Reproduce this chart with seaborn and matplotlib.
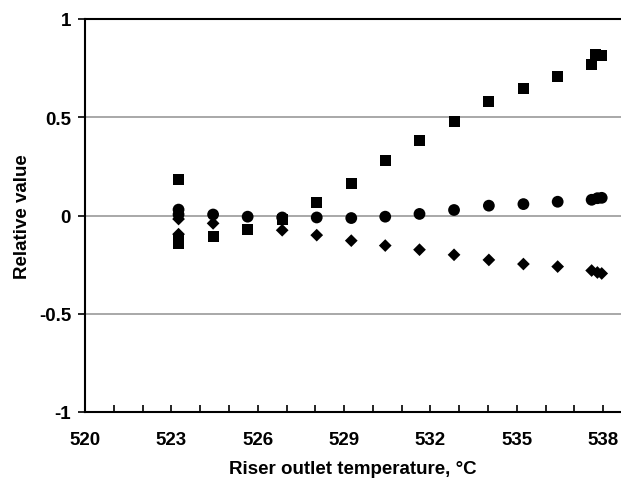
import matplotlib
matplotlib.use("Agg")
import matplotlib.pyplot as plt
import seaborn as sns
import pandas as pd
from matplotlib.ticker import MultipleLocator

# Data
sq_x = [523.25, 523.25, 523.25, 524.45, 525.65, 526.85, 528.05, 529.25, 530.43,
        531.62, 532.82, 534.03, 535.23, 536.42, 537.6, 537.75, 537.95]
sq_y = [0.185, -0.125, -0.145, -0.108, -0.07, -0.018, 0.064, 0.165, 0.279,
        0.38, 0.479, 0.579, 0.644, 0.706, 0.767, 0.818, 0.815]

ci_x = [523.25, 523.25, 524.45, 525.65, 526.85, 528.05, 529.25, 530.43, 531.62,
        532.82, 534.03, 535.23, 536.42, 537.6, 537.8, 537.95]
ci_y = [0.03, 0.005, 0.005, -0.006, -0.01, -0.01, -0.013, -0.006, 0.008,
        0.028, 0.05, 0.058, 0.07, 0.08, 0.088, 0.09]

di_x = [523.25, 523.25, 524.45, 526.85, 528.05, 529.25, 530.43, 531.62, 532.82,
        534.03, 535.23, 536.42, 537.6, 537.8, 537.95]
di_y = [-0.018, -0.095, -0.04, -0.075, -0.1, -0.128, -0.153, -0.174, -0.2,
        -0.226, -0.247, -0.26, -0.28, -0.29, -0.295]

x_ticks = [520, 523, 526, 529, 532, 535, 538]
y_ticks = [-1, -0.5, 0, 0.5, 1]
y_labels = ["-1", "-0.5", "0", "0.5", "1"]

df = pd.concat([
    pd.DataFrame({"x": sq_x, "y": sq_y, "s": "square"}),
    pd.DataFrame({"x": ci_x, "y": ci_y, "s": "circle"}),
    pd.DataFrame({"x": di_x, "y": di_y, "s": "diamond"}),
], ignore_index=True)

sns.set_theme(style="white")
plt.rcParams["font.family"] = ["Liberation Sans", "DejaVu Sans"]
plt.rcParams["text.color"] = "black"
plt.rcParams["axes.labelcolor"] = "black"
plt.rcParams["xtick.color"] = "black"
plt.rcParams["ytick.color"] = "black"

fig = plt.figure(figsize=(6.21, 4.81), dpi=100)
ax = fig.add_axes([85/621, 1 - 413/481, 1 - 85/621, (413 - 20)/481])

for yv in [0.5, 0, -0.5]:
    ax.axhline(yv, color="#999999", lw=1.2, zorder=0)

sizes = {"square": 62, "circle": 72, "diamond": 42}
markers = {"square": "s", "circle": "o", "diamond": "D"}
for name, sub in df.groupby("s"):
    sns.scatterplot(data=sub, x="x", y="y", marker=markers[name], s=sizes[name],
                    color="black", edgecolor="none", linewidth=0, ax=ax,
                    legend=False, zorder=3)

ax.set_xlim(520, 538.62)
ax.set_ylim(-1, 1)
ax.set_xticks(x_ticks)
ax.xaxis.set_minor_locator(MultipleLocator(1))
ax.set_yticks(y_ticks)
ax.set_yticklabels(y_labels)

for sp in ["left", "bottom", "top"]:
    ax.spines[sp].set_color("black")
    ax.spines[sp].set_linewidth(1.5)
ax.spines["right"].set_visible(False)

ax.tick_params(axis="x", which="both", direction="in", length=5, width=1.2,
               color="black", labelcolor="black", pad=14, labelsize=13.5, bottom=True)
ax.tick_params(axis="y", which="major", direction="out", length=5, width=1.2,
               color="black", labelcolor="black", pad=5, labelsize=13.5, left=True)
for lab in ax.get_xticklabels() + ax.get_yticklabels():
    lab.set_fontweight("bold")

ax.set_xlabel("Riser outlet temperature, \u00b0C", fontsize=13.5, fontweight="bold",
              labelpad=8, color="black")
ax.set_ylabel("Relative value", fontsize=13.5, fontweight="bold", labelpad=6, color="black")
ax.grid(False)

fig.savefig("out.png", dpi=100)
